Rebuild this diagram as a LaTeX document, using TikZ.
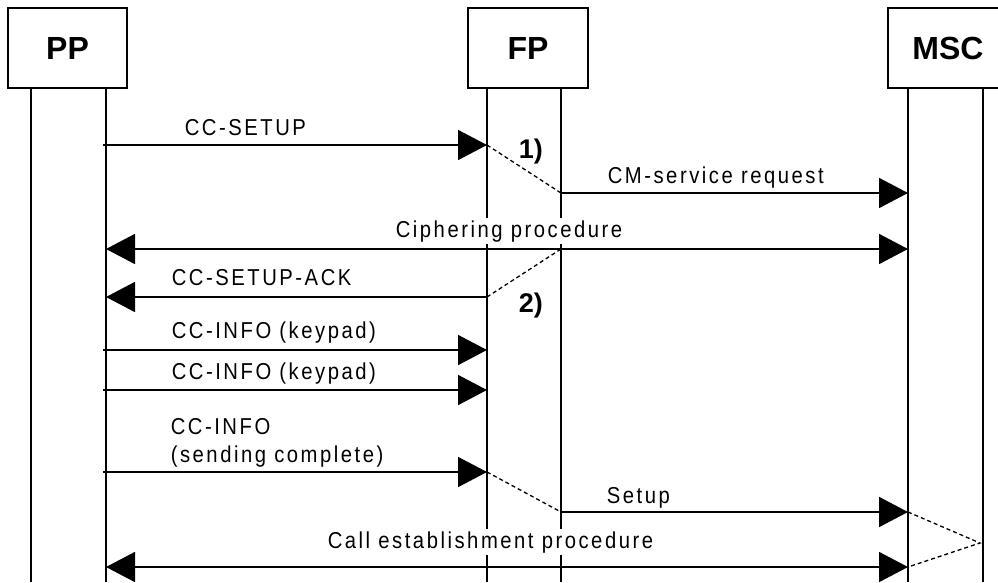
\documentclass[tikz,border=0pt]{standalone}
\usepackage{fontspec}
\setmainfont{Liberation Sans}
\newfontfamily\lblfont{Liberation Sans}[FakeStretch=0.88, LetterSpace=11]
\usetikzlibrary{arrows.meta}
\begin{document}
\begin{tikzpicture}[x=1pt,y=-1pt, line width=1.6pt,
 msg/.style={-{Triangle[length=29pt,width=30pt]}},
 bimsg/.style={{Triangle[length=29pt,width=30pt]}-{Triangle[length=29pt,width=30pt]}},
 dsh/.style={dash pattern=on 4pt off 3pt, line width=1.3pt},
 lbl/.style={font=\lblfont\fontsize{23}{27}\selectfont, anchor=base west, inner sep=0pt},
 wlbl/.style={lbl, fill=white, inner sep=2pt},
 head/.style={draw, line width=2pt, minimum height=80pt, font=\bfseries\fontsize{32}{38}\selectfont},
 num/.style={font=\bfseries\fontsize{27}{31}\selectfont, anchor=base west, inner sep=0pt}]
\useasboundingbox (0,0) rectangle (998,582);
\begin{scope}
\clip (0,0) rectangle (998,582);
% headers
\node[head, minimum width=119pt] (pp) at (67.5,48) {PP};
\node[head, minimum width=120pt] (fp) at (528,48) {FP};
\node[head, minimum width=120pt] (msc) at (948,48) {MSC};
% lifelines
\coordinate (ppAt) at (31,88);  \coordinate (ppAb) at (31,582);
\coordinate (ppBt) at (106,88); \coordinate (ppBb) at (106,582);
\coordinate (fpAt) at (487,88); \coordinate (fpAb) at (487,582);
\coordinate (fpBt) at (561,88); \coordinate (fpBb) at (561,582);
\coordinate (msAt) at (908,88); \coordinate (msAb) at (908,582);
\coordinate (msBt) at (983,88); \coordinate (msBb) at (983,582);
\draw (ppAt) -- (ppAb);
\draw (ppBt) -- (ppBb);
\draw (fpAt) -- (fpAb);
\draw (fpBt) -- (fpBb);
\draw (msAt) -- (msAb);
\draw (msBt) -- (msBb);
% labels
\node[lbl] (l1) at (184,135) {CC-SETUP};
\node[num] (n1) at (518,158) {1)};
\node[lbl] (l2) at (607,183) {CM-service request};
\node[wlbl] (l3) at (393,237) {Ciphering procedure};
\node[lbl] (l4) at (171,285) {CC-SETUP-ACK};
\node[num] (n2) at (518,312) {2)};
\node[lbl] (l5) at (171,338) {CC-INFO (keypad)};
\node[lbl] (l6) at (171,379) {CC-INFO (keypad)};
\node[lbl] (l7) at (170,434) {CC-INFO};
\node[lbl] (l8) at (170,462) {(sending complete)};
\node[lbl] (l9) at (606,503) {Setup};
\node[wlbl] (l10) at (325,548) {Call establishment procedure};
% message points
\coordinate (a1) at (103,145); \coordinate (b1) at (487,145);
\coordinate (a2) at (561,193); \coordinate (b2) at (908,193);
\coordinate (a3) at (106,249); \coordinate (b3) at (908,249);
\coordinate (c3) at (561,249);
\coordinate (a4) at (487,297); \coordinate (b4) at (106,297);
\coordinate (a5) at (103,350); \coordinate (b5) at (487,350);
\coordinate (a6) at (103,390); \coordinate (b6) at (487,390);
\coordinate (a7) at (103,472); \coordinate (b7) at (487,472);
\coordinate (a8) at (561,512); \coordinate (b8) at (908,512);
\coordinate (a9) at (106,567); \coordinate (b9) at (908,567);
\coordinate (tip) at (980,543);
% messages
\draw[msg] (a1) -- (b1);
\draw[msg] (a2) -- (b2);
\draw[bimsg] (a3) -- (b3);
\draw[msg] (a4) -- (b4);
\draw[msg] (a5) -- (b5);
\draw[msg] (a6) -- (b6);
\draw[msg] (a7) -- (b7);
\draw[msg] (a8) -- (b8);
\draw[bimsg] (a9) -- (b9);
% dashed links
\draw[dsh] (b1) -- (a2);
\draw[dsh] (a4) -- (c3);
\draw[dsh] (b7) -- (a8);
\draw[dsh] (b8) -- (tip) -- (b9);
\end{scope}
\end{tikzpicture}
\end{document}
